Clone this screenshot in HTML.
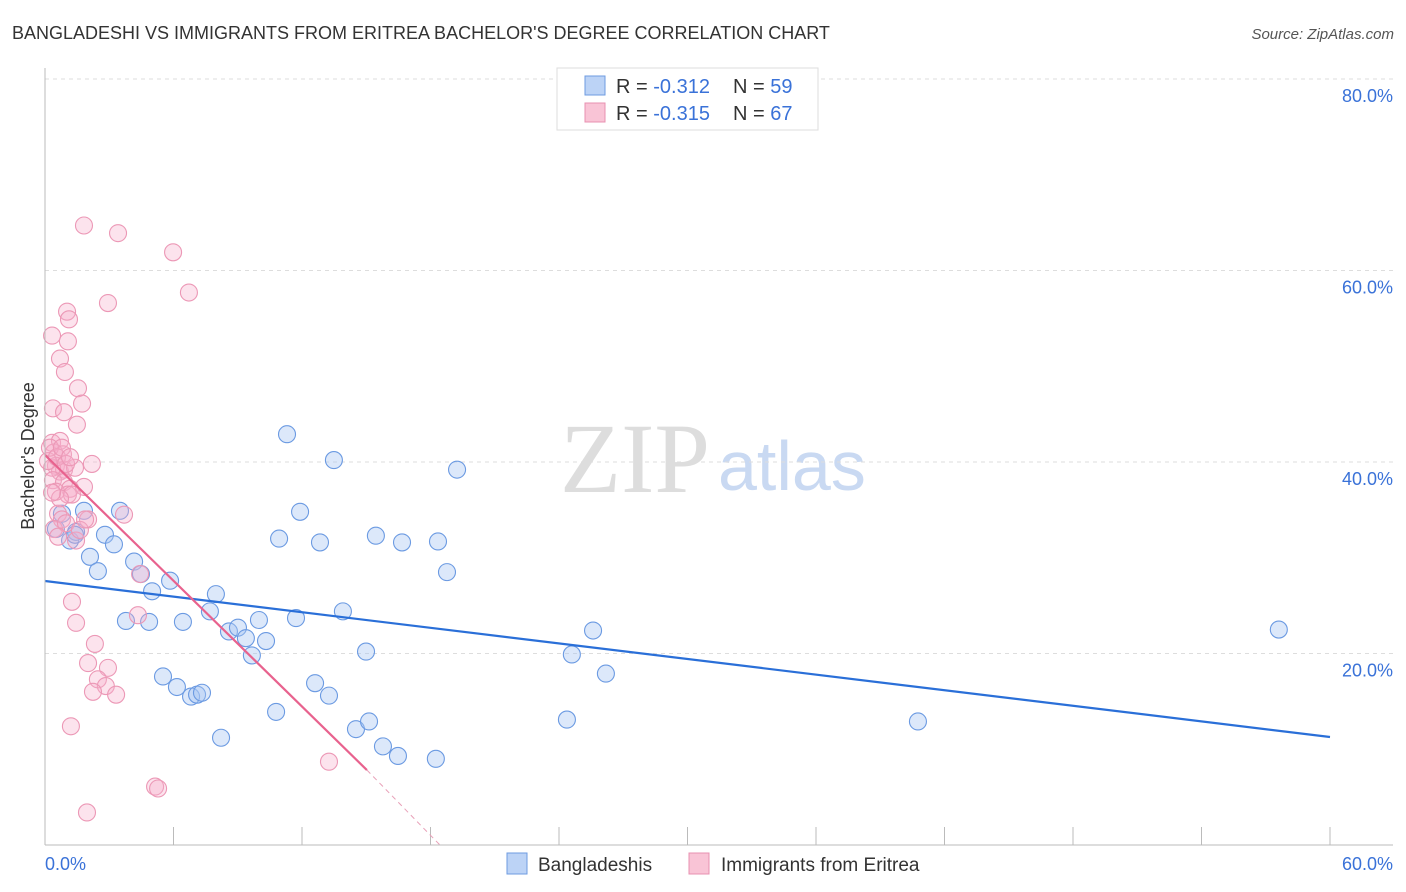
<!DOCTYPE html>
<html><head><meta charset="utf-8"><style>
body{margin:0;background:#fff;font-family:"Liberation Sans",sans-serif;}
svg{display:block}
</style></head><body>
<svg id="chart" width="1406" height="892">
<text x="12" y="39" font-size="18" fill="#333">BANGLADESHI VS IMMIGRANTS FROM ERITREA BACHELOR'S DEGREE CORRELATION CHART</text>
<text x="1394" y="39" font-size="15" fill="#555" font-style="italic" text-anchor="end">Source: ZipAtlas.com</text>
<text x="560" y="492" font-size="100" fill="#ddd" font-family="Liberation Serif,serif">ZIP</text>
<text x="718" y="490" font-size="70" fill="#c9d9f2">atlas</text>
<text transform="translate(34,456) rotate(-90)" font-size="18" fill="#333" text-anchor="middle">Bachelor's Degree</text>
<g id="grid"></g><g id="pts"></g><g id="lines"></g>
<line x1="45" y1="68" x2="45" y2="845" stroke="#bbb"/>
<line x1="45" y1="845" x2="1393" y2="845" stroke="#bbb"/>
<text x="45" y="870" font-size="18" fill="#3a72d8">0.0%</text>
<text x="1393" y="870" font-size="18" fill="#3a72d8" text-anchor="end">60.0%</text>
<g>
<rect x="557" y="68" width="261" height="62" fill="#fff" stroke="#ddd"/>
<rect x="585" y="76" width="20" height="19" fill="#bcd3f6" stroke="#6e9be0"/>
<rect x="585" y="103" width="20" height="19" fill="#f9c4d6" stroke="#e890b0"/>
<text x="616" y="93" font-size="20" fill="#333">R = <tspan fill="#3a72d8">-0.312</tspan></text>
<text x="733" y="93" font-size="20" fill="#333">N = <tspan fill="#3a72d8">59</tspan></text>
<text x="616" y="120" font-size="20" fill="#333">R = <tspan fill="#3a72d8">-0.315</tspan></text>
<text x="733" y="120" font-size="20" fill="#333">N = <tspan fill="#3a72d8">67</tspan></text>
</g>
<rect x="507" y="853" width="20" height="21" fill="#bcd3f6" stroke="#6e9be0"/>
<text x="538" y="871" font-size="19" fill="#333">Bangladeshis</text>
<rect x="689" y="853" width="20" height="21" fill="#f9c4d6" stroke="#e890b0"/>
<text x="721" y="871" font-size="19" fill="#333">Immigrants from Eritrea</text>
</svg>
<script>
const yTicks=[20,40,60,80];
const xTicks=[0,6,12,18,24,30,36,42,48,54,60];
const blueX=[0.51,0.79,1.17,1.45,1.82,2.1,2.47,2.8,3.22,3.5,3.78,4.16,4.48,4.86,5,5.51,5.84,6.16,6.44,6.82,7.1,7.33,7.7,7.98,8.22,8.59,9.01,9.38,9.66,9.99,10.32,10.79,10.93,11.3,11.72,11.91,12.61,12.84,13.26,13.49,13.91,14.52,14.99,15.13,15.45,15.78,16.48,16.67,18.25,18.35,18.77,19.24,24.37,24.6,25.59,26.19,40.76,57.61,1.4];
const blueY=[33.0,34.6,31.8,32.7,34.9,30.1,28.6,32.4,31.4,34.9,23.4,29.6,28.3,23.3,26.5,17.6,27.6,16.5,23.3,15.5,15.7,15.9,24.4,26.2,11.2,22.3,22.7,21.6,19.8,23.5,21.3,13.9,32.0,42.9,23.7,34.8,16.9,31.6,15.6,40.2,24.4,12.1,20.2,12.9,32.3,10.3,9.3,31.6,9.0,31.7,28.5,39.2,13.1,19.9,22.4,17.9,12.9,22.5,32.4];
const pinkX=[1.82,3.41,5.98,6.72,2.94,1.03,1.12,0.33,1.07,0.7,0.93,1.54,1.73,0.37,0.89,1.49,0.33,0.7,0.42,0.84,0.51,0.7,0.89,0.33,1.4,2.19,0.37,0.89,1.17,0.51,1.82,1.07,1.26,0.61,0.79,2.01,3.69,0.42,0.98,0.61,1.45,1.26,1.45,2.33,2.01,2.94,2.47,2.84,2.24,3.32,1.21,4.34,4.44,5.14,5.28,1.96,13.26,0.14,0.23,0.56,0.98,0.7,0.33,0.79,1.17,1.63,1.87];
const pinkY=[64.7,63.9,61.9,57.7,56.6,55.7,54.9,53.2,52.6,50.8,49.4,47.7,46.1,45.6,45.2,43.9,42.0,42.2,41.0,40.8,39.6,39.0,39.2,39.4,39.4,39.8,38.1,37.9,37.2,36.9,37.4,36.6,36.6,34.6,34.0,34.0,34.5,33.0,33.6,32.2,31.8,25.4,23.2,21.0,19.0,18.5,17.3,16.6,16.0,15.7,12.4,24.0,28.3,6.1,5.9,3.4,8.7,40.1,41.5,40.5,39.8,36.2,36.8,41.5,40.5,32.9,34.0];
const blueLine=[0,27.57,60,11.28];
const pinkLine=[0,40.73,15.03,7.83];
const pinkDash=[15.03,7.83,18.44,0];
const X=v=>45+v/60*1285, Y=v=>845-v/20*191.5;
const NS="http://www.w3.org/2000/svg";
function mk(t,a,p){const e=document.createElementNS(NS,t);for(const k in a)e.setAttribute(k,a[k]);p.appendChild(e);return e;}
const grid=document.getElementById('grid');
yTicks.forEach(v=>{
 const l=mk('line',{x1:45,x2:1393,y1:Y(v),y2:Y(v),stroke:'#ddd','stroke-dasharray':'4,4'},grid);
 
 
 const t=mk('text',{x:1393,y:Y(v)+23,'font-size':18,fill:'#3a72d8','text-anchor':'end'},grid);
 t.textContent=v.toFixed(1)+'%';
 
 
});
xTicks.forEach(v=>{
 const l=mk('line',{x1:X(v),x2:X(v),y1:827,y2:845,stroke:'#bbb'},grid);
 
 
});
const pts=document.getElementById('pts');
blueX.forEach((x,i)=>{
 const c=mk('circle',{cx:X(x),cy:Y(blueY[i]),r:8.5,fill:'rgba(168,198,242,0.4)',stroke:'#6b9ae2','stroke-width':1.1},pts);
 
 
});
pinkX.forEach((x,i)=>{
 const c=mk('circle',{cx:X(x),cy:Y(pinkY[i]),r:8.5,fill:'rgba(246,176,202,0.35)',stroke:'#ec98b6','stroke-width':1.1},pts);
 
 
});
const lines=document.getElementById('lines');
let l=mk('line',{x1:X(blueLine[0]),y1:Y(blueLine[1]),x2:X(blueLine[2]),y2:Y(blueLine[3]),stroke:'#2a6fd8','stroke-width':2.2},lines);


l=mk('line',{x1:X(pinkLine[0]),y1:Y(pinkLine[1]),x2:X(pinkLine[2]),y2:Y(pinkLine[3]),stroke:'#e8628e','stroke-width':2.2},lines);


l=mk('line',{x1:X(pinkDash[0]),y1:Y(pinkDash[1]),x2:X(pinkDash[2]),y2:Y(pinkDash[3]),stroke:'#e8a0b8','stroke-width':1,'stroke-dasharray':'5,4'},lines);


</script>
</body></html>
